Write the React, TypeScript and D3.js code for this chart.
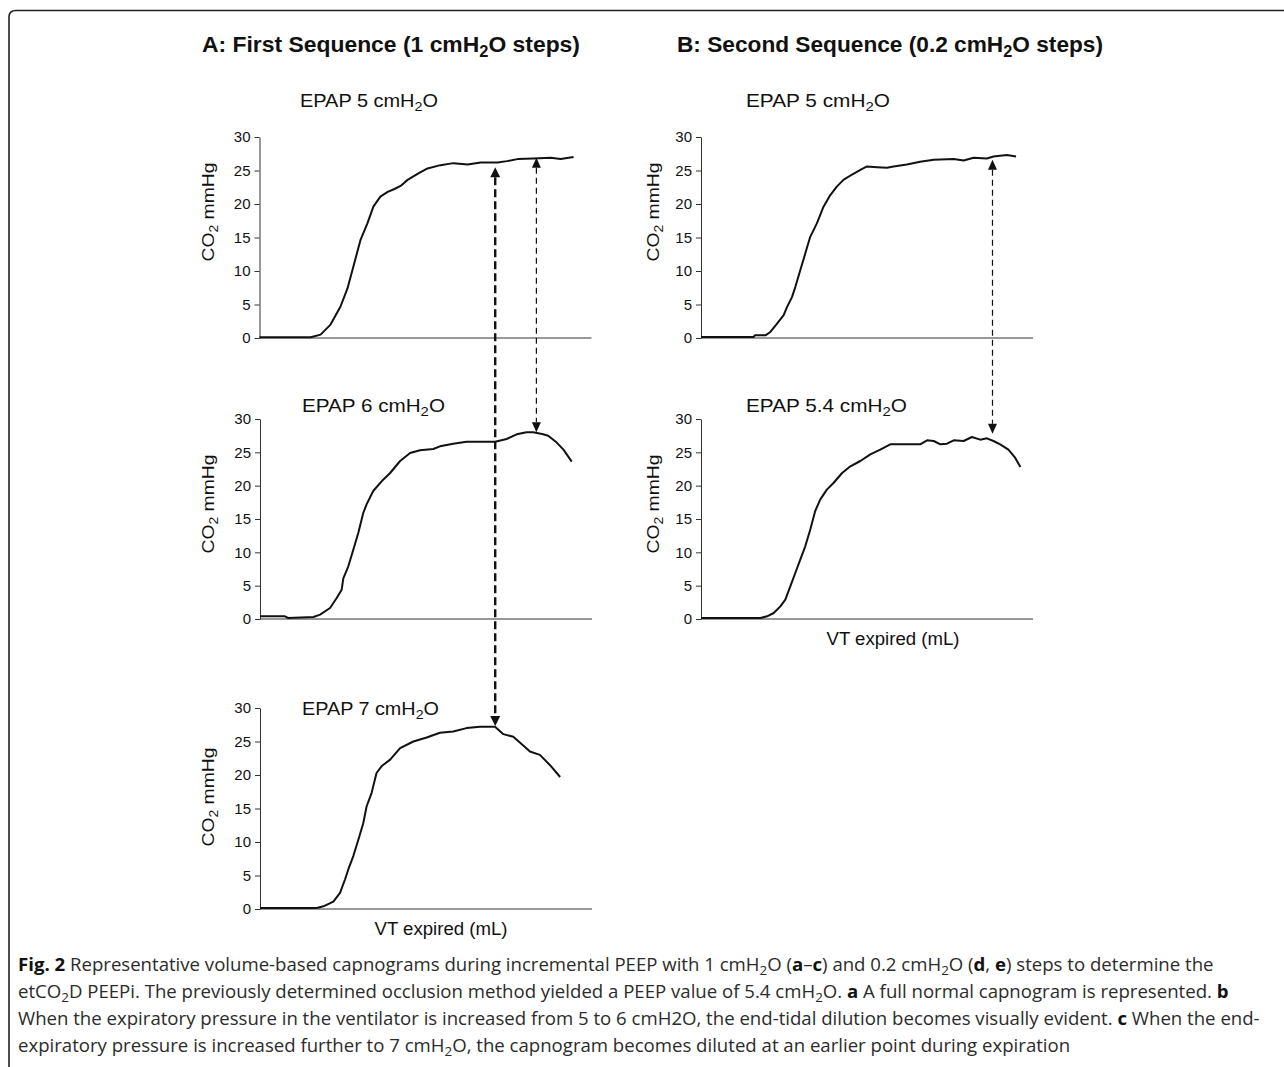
import React, { useEffect, useRef } from 'react';
import * as d3 from 'd3';

// capnogram traces: [VT expired (arbitrary units 0-100), CO2 mmHg]
const firstEpap5: [number, number][] = [
  [0, 0.1], [14.5, 0.1], [15.4, 0.1], [18.4, 0.5], [21.4, 2.0], [24.4, 4.7], [26.5, 7.4],
  [28.3, 10.7], [30.4, 14.6], [32.5, 17.1], [34.3, 19.6], [36.4, 21.1], [38.6, 21.8],
  [40.5, 22.2], [42.5, 22.7], [44.6, 23.6], [47.6, 24.5], [50.6, 25.3], [54.5, 25.8],
  [58.4, 26.1], [62.7, 25.9], [66.6, 26.2], [71.7, 26.2], [74.5, 26.4], [77.7, 26.7],
  [82.5, 26.8], [87.7, 26.9], [90.7, 26.7], [94.6, 27.0],
];
const firstEpap6: [number, number][] = [
  [0, 0.4], [7.5, 0.4], [8.5, 0.15], [16.1, 0.3], [18.1, 0.65], [21.1, 1.65], [23.1, 3.15],
  [24.6, 4.4], [25.1, 6.1], [26.6, 7.9], [28.1, 10.4], [29.6, 12.9], [31.1, 15.9], [32.1, 17.2],
  [34.1, 19.2], [37.1, 20.9], [39.2, 21.9], [42.2, 23.7], [45.2, 24.9], [48.2, 25.3],
  [52.2, 25.5], [54.2, 25.9], [58.2, 26.3], [62.2, 26.6], [67.3, 26.6], [70.8, 26.6],
  [74.3, 27.0], [77.3, 27.7], [80.3, 28.0], [82.3, 28.0], [85.3, 27.7], [86.8, 27.5],
  [89.3, 26.5], [91.4, 25.4], [93.9, 23.6],
];
const firstEpap7: [number, number][] = [
  [0, 0.15], [17.1, 0.15], [19.1, 0.4], [22.1, 1.1], [24.1, 2.4], [25.6, 4.4], [26.6, 5.9],
  [28.1, 7.9], [29.6, 10.3], [31.1, 12.8], [32.1, 15.3], [33.6, 17.3], [35.1, 20.3],
  [36.6, 21.3], [39.2, 22.3], [42.2, 24.0], [46.2, 25.0], [50.2, 25.6], [54.2, 26.3],
  [58.2, 26.5], [62.2, 27.0], [66.3, 27.2], [70.8, 27.2], [73.3, 26.1], [76.3, 25.7],
  [79.3, 24.4], [81.3, 23.5], [84.3, 23.0], [87.3, 21.5], [90.4, 19.7],
];
const secondEpap5: [number, number][] = [
  [0, 0.15], [15.8, 0.15], [16.3, 0.4], [19.4, 0.4], [20.9, 0.9], [22.9, 2.15], [24.9, 3.4],
  [25.9, 4.6], [27.4, 6.1], [28.4, 7.6], [29.9, 10.1], [31.4, 12.6], [32.9, 15.1],
  [34.9, 17.1], [36.9, 19.6], [38.9, 21.3], [40.9, 22.6], [42.9, 23.6], [45.5, 24.4],
  [48.0, 25.1], [50.0, 25.6], [53.0, 25.5], [56.0, 25.4], [58.0, 25.6], [62.0, 25.9],
  [66.0, 26.3], [70.1, 26.6], [76.1, 26.7], [79.1, 26.5], [82.1, 26.9], [86.1, 26.8],
  [88.1, 27.1], [92.1, 27.3], [94.9, 27.1],
];
const secondEpap54: [number, number][] = [
  [0, 0.15], [17.9, 0.15], [19.9, 0.4], [21.9, 0.9], [23.9, 1.9], [25.4, 2.9], [26.9, 4.9],
  [28.4, 6.9], [29.9, 8.9], [31.4, 10.9], [32.9, 13.4], [34.4, 16.2], [35.9, 17.9],
  [37.9, 19.4], [39.9, 20.4], [42.5, 21.9], [45.0, 22.9], [48.0, 23.7], [51.0, 24.7],
  [54.0, 25.4], [57.0, 26.2], [60.0, 26.2], [66.0, 26.2], [68.1, 26.8], [70.1, 26.7],
  [72.1, 26.2], [74.1, 26.3], [76.1, 26.8], [79.1, 26.7], [81.6, 27.3], [84.1, 26.9],
  [86.1, 27.1], [88.1, 26.7], [90.1, 26.2], [92.6, 25.4], [94.6, 24.2], [96.2, 22.8],
];

const co2Ticks = [0, 5, 10, 15, 20, 25, 30];

// dashed arrows between panels: x position, start panel/value, end panel/value
const arrows = [
  { x: 71, from: 'a1', fromVal: 25.5, to: 'a3', toVal: 27.3, thick: true },
  { x: 83.4, from: 'a1', fromVal: 26.9, to: 'a2', toVal: 28.0, thick: false },
  { x: 87.8, from: 'b1', fromVal: 26.6, to: 'b2', toVal: 27.8, thick: false },
];

type Seg = { t: string; sub?: boolean; b?: boolean };

const epapTitle = (v: string): Seg[] => [{ t: `EPAP ${v} cmH` }, { t: '2', sub: true }, { t: 'O' }];
const co2Label: Seg[] = [{ t: 'CO' }, { t: '2', sub: true }, { t: ' mmHg' }];

const panels = [
  { id: 'a1', data: firstEpap5, left: 259.5, top: 137, bottom: 338, title: epapTitle('5'), tx: 300, ty: 107, tw: 138, lx: 214, ly: 212, xLabel: null },
  { id: 'a2', data: firstEpap6, left: 260, top: 419, bottom: 619, title: epapTitle('6'), tx: 302, ty: 412, tw: 143, lx: 214, ly: 504, xLabel: null },
  { id: 'a3', data: firstEpap7, left: 260, top: 708, bottom: 909, title: epapTitle('7'), tx: 302, ty: 715, tw: 137, lx: 214, ly: 797, xLabel: { x: 441, y: 935 } },
  { id: 'b1', data: secondEpap5, left: 701, top: 137, bottom: 338, title: epapTitle('5'), tx: 746, ty: 107, tw: 144, lx: 659, ly: 212, xLabel: null },
  { id: 'b2', data: secondEpap54, left: 701, top: 419, bottom: 619, title: epapTitle('5.4'), tx: 746, ty: 412, tw: 161, lx: 659, ly: 504, xLabel: { x: 893, y: 645 } },
];

const captionLines: Seg[][] = [
  [{ t: 'Fig. 2', b: true }, { t: ' Representative volume-based capnograms during incremental PEEP with 1 cmH' }, { t: '2', sub: true }, { t: 'O (' }, { t: 'a', b: true }, { t: '–' }, { t: 'c', b: true }, { t: ') and 0.2 cmH' }, { t: '2', sub: true }, { t: 'O (' }, { t: 'd', b: true }, { t: ', ' }, { t: 'e', b: true }, { t: ') steps to determine the' }],
  [{ t: 'etCO' }, { t: '2', sub: true }, { t: 'D PEEPi. The previously determined occlusion method yielded a PEEP value of 5.4 cmH' }, { t: '2', sub: true }, { t: 'O. ' }, { t: 'a', b: true }, { t: ' A full normal capnogram is represented. ' }, { t: 'b', b: true }],
  [{ t: 'When the expiratory pressure in the ventilator is increased from 5 to 6 cmH2O, the end-tidal dilution becomes visually evident. ' }, { t: 'c', b: true }, { t: ' When the end-' }],
  [{ t: 'expiratory pressure is increased further to 7 cmH' }, { t: '2', sub: true }, { t: 'O, the capnogram becomes diluted at an earlier point during expiration' }],
];

const AXIS_W = 332;
const FONT = '"Liberation Sans", Arial, sans-serif';

function addSegs(text: any, segs: Seg[], shift: number) {
  let cur = 0;
  segs.forEach(s => {
    const target = s.sub ? shift : 0;
    const ts = text.append('tspan').text(s.t).attr('dy', target - cur);
    if (s.sub) ts.attr('font-size', '0.72em');
    if (s.b) ts.attr('font-weight', 'bold').attr('fill', '#111');
    cur = target;
  });
}

const App = () => {
  const svgRef = useRef<SVGSVGElement>(null);

  useEffect(() => {
    const svg = d3.select(svgRef.current);
    svg.selectAll('*').remove();

    const x = d3.scaleLinear().domain([0, 100]).range([0, AXIS_W]);
    const yScales: Record<string, any> = {};

    // frame
    svg.append('path')
      .attr('d', 'M9,1067 V17 Q9,10.5 16,10.5 H1284')
      .attr('fill', 'none').attr('stroke', '#222').attr('stroke-width', 1.6);

    // sequence titles
    const seqTitles = [
      { x: 202, w: 378, segs: [{ t: 'A: First Sequence (1 cmH' }, { t: '2', sub: true }, { t: 'O steps)' }] },
      { x: 677, w: 426, segs: [{ t: 'B: Second Sequence (0.2 cmH' }, { t: '2', sub: true }, { t: 'O steps)' }] },
    ];
    seqTitles.forEach(st => {
      const t = svg.append('text').attr('x', st.x).attr('y', 52)
        .attr('font-family', FONT).attr('font-size', 22).attr('font-weight', 'bold').attr('fill', '#111')
        .attr('textLength', st.w).attr('lengthAdjust', 'spacingAndGlyphs');
      addSegs(t, st.segs, 5);
    });

    panels.forEach(p => {
      const y = d3.scaleLinear().domain([0, 30]).range([p.bottom, p.top]);
      yScales[p.id] = y;
      const g = svg.append('g').attr('transform', `translate(${p.left},0)`);

      const yAxis = g.append('g')
        .call(d3.axisLeft(y).tickValues(co2Ticks).tickSize(5).tickSizeOuter(0).tickPadding(4));
      yAxis.select('.domain').attr('stroke', '#333');
      yAxis.selectAll('.tick line').attr('stroke', '#333');
      yAxis.selectAll('.tick text')
        .attr('font-family', FONT).attr('font-size', 15).attr('fill', '#111');

      g.append('line')
        .attr('x1', 0).attr('x2', AXIS_W).attr('y1', y(0)).attr('y2', y(0))
        .attr('stroke', '#333').attr('stroke-width', 1);

      const line = d3.line<[number, number]>().x(d => x(d[0])).y(d => y(d[1]));
      g.append('path').datum(p.data).attr('d', line)
        .attr('fill', 'none').attr('stroke', '#111').attr('stroke-width', 2)
        .attr('stroke-linejoin', 'round');

      const title = svg.append('text').attr('x', p.tx).attr('y', p.ty)
        .attr('font-family', FONT).attr('font-size', 18).attr('fill', '#111')
        .attr('textLength', p.tw).attr('lengthAdjust', 'spacingAndGlyphs');
      addSegs(title, p.title, 4);

      const yl = svg.append('text')
        .attr('transform', `translate(${p.lx},${p.ly}) rotate(-90)`)
        .attr('text-anchor', 'middle')
        .attr('font-family', FONT).attr('font-size', 17).attr('fill', '#111')
        .attr('textLength', 99).attr('lengthAdjust', 'spacingAndGlyphs');
      addSegs(yl, co2Label, 4);

      if (p.xLabel) {
        svg.append('text').attr('x', p.xLabel.x).attr('y', p.xLabel.y)
          .attr('text-anchor', 'middle')
          .attr('font-family', FONT).attr('font-size', 18).attr('fill', '#111')
          .attr('textLength', 133).attr('lengthAdjust', 'spacingAndGlyphs')
          .text('VT expired (mL)');
      }
    });

    // dashed arrows
    arrows.forEach(a => {
      const from = panels.find(p => p.id === a.from)!;
      const ax = from.left + x(a.x);
      const y1 = yScales[a.from](a.fromVal);
      const y2 = yScales[a.to](a.toVal);
      const hw = a.thick ? 5 : 4.5;
      const hh = 10;
      svg.append('line')
        .attr('x1', ax).attr('x2', ax).attr('y1', y1 + hh).attr('y2', y2 - hh)
        .attr('stroke', '#111')
        .attr('stroke-width', a.thick ? 2.4 : 1.2)
        .attr('stroke-dasharray', a.thick ? '8,4' : '6,4');
      svg.append('path')
        .attr('d', `M${ax},${y1} L${ax - hw},${y1 + hh} L${ax + hw},${y1 + hh} Z`)
        .attr('fill', '#111');
      svg.append('path')
        .attr('d', `M${ax},${y2} L${ax - hw},${y2 - hh} L${ax + hw},${y2 - hh} Z`)
        .attr('fill', '#111');
    });

    // caption
    captionLines.forEach((segs, i) => {
      const t = svg.append('text').attr('x', 18).attr('y', 971 + i * 27)
        .attr('font-family', '"Open Sans", sans-serif').attr('font-size', 18.6).attr('fill', '#2b2b2b');
      addSegs(t, segs, 4);
    });
  }, []);

  return (
    <div style={{ position: 'absolute', left: 0, top: 0, background: '#fff' }}>
      <svg ref={svgRef} width={1284} height={1067} style={{ display: 'block' }}></svg>
    </div>
  );
};

export default App;
